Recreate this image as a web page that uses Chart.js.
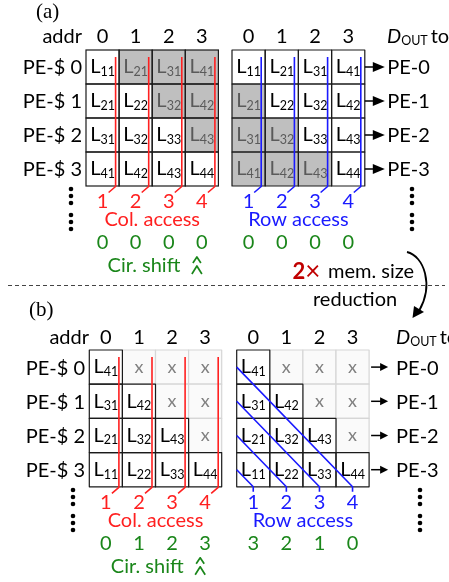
<!DOCTYPE html>
<html>
<head>
<meta charset="utf-8">
<script src="https://cdn.jsdelivr.net/npm/chart.js@4.4.1/dist/chart.umd.min.js"></script>
<style>
  html, body { margin: 0; padding: 0; background: #fff; }
  canvas { display: block; }
</style>
</head>
<body>
<canvas id="c" width="449" height="582"></canvas>
<script>
// ---------- data ----------
const addrLabels   = ['0', '1', '2', '3'];
const cacheRows    = ['PE-$ 0', 'PE-$ 1', 'PE-$ 2', 'PE-$ 3'];
const outTargets   = ['PE-0', 'PE-1', 'PE-2', 'PE-3'];
const accessOrder  = ['1', '2', '3', '4'];
// element subscripts held by each cache row, per address ('x' = freed slot)
const storeFull    = [['11','21','31','41'], ['21','22','32','42'], ['31','32','33','43'], ['41','42','43','44']];
const storeReduced = [['41','x','x','x'], ['31','42','x','x'], ['21','32','43','x'], ['11','22','33','44']];
// 1 = duplicated entry (shaded)
const dupColumn    = [[0,1,1,1], [0,0,1,1], [0,0,0,1], [0,0,0,0]];
const dupRow       = [[0,0,0,0], [1,0,0,0], [1,1,0,0], [1,1,1,0]];
const shiftColFull    = [0, 0, 0, 0];
const shiftRowFull    = [0, 0, 0, 0];
const shiftColReduced = [0, 1, 2, 3];
const shiftRowReduced = [3, 2, 1, 0];
const sizeReduction   = 2;

// ---------- styling / layout ----------
const FONT = 'Lato, "Open Sans", sans-serif';
const SERIF = '"Liberation Serif", "DejaVu Serif", serif';
const RED = '#ff2020', BLUE = '#1a1aff', GREEN = '#1a861a', DARKRED = '#c00000';

const panels = {
  a: { title: '(a)', titleX: 36, titleY: 12, headerY: 37, top: 50, rowH: 34,
       labelRight: 82, addrRight: 82, doutX: 387, arrowStyle: 'block',
       dotsL: 71, dotsR: 412, dotsTop: 189 },
  b: { title: '(b)', titleX: 29, titleY: 310, headerY: 338, top: 350, rowH: 34.2,
       labelRight: 85, addrRight: 89, doutX: 396, arrowStyle: 'thin',
       dotsL: 73, dotsR: 420, dotsTop: 490 }
};
const grids = [
  { panel: 'a', left: 86,    cw: 33.1, store: storeFull,    shade: dupColumn, mode: 'col',  color: RED,  caption: 'Col. access', shifts: shiftColFull,    cir: true },
  { panel: 'a', left: 232,   cw: 33.2, store: storeFull,    shade: dupRow,    mode: 'row',  color: BLUE, caption: 'Row access',  shifts: shiftRowFull,    out: true },
  { panel: 'b', left: 89.3,  cw: 33.1, store: storeReduced, shade: null,      mode: 'col',  color: RED,  caption: 'Col. access', shifts: shiftColReduced, cir: true },
  { panel: 'b', left: 236.7, cw: 33.1, store: storeReduced, shade: null,      mode: 'diag', color: BLUE, caption: 'Row access',  shifts: shiftRowReduced, out: true }
];

function drawDiagram(chart) {
  const ctx = chart.ctx;
  const X = v => chart.scales.x.getPixelForValue(v);
  const Y = v => chart.scales.y.getPixelForValue(v);

  function text(str, x, y, font, color, align) {
    ctx.font = font; ctx.fillStyle = color; ctx.textAlign = align || 'center';
    ctx.textBaseline = 'middle'; ctx.fillText(str, X(x), Y(y));
  }
  function elem(sub, cx, rowTop, color) {
    ctx.font = '20px ' + FONT; const wL = ctx.measureText('L').width;
    ctx.font = '12.5px ' + FONT; const wS = ctx.measureText(sub).width;
    const x0 = X(cx) - (wL + wS) / 2;
    const base = Y(rowTop + 23.3);
    ctx.fillStyle = color; ctx.textAlign = 'left'; ctx.textBaseline = 'alphabetic';
    ctx.font = '20px ' + FONT; ctx.fillText('L', x0, base);
    ctx.font = '12.5px ' + FONT; ctx.fillText(sub, x0 + wL, base + 2.7);
  }
  function dots(x, y0) {
    ctx.fillStyle = '#000';
    [0, 7, 14, 26, 33, 40].forEach(d => {
      ctx.beginPath(); ctx.arc(X(x), Y(y0 + d), 2.3, 0, Math.PI * 2); ctx.fill();
    });
  }
  function chevrons(x, y) {
    ctx.strokeStyle = GREEN; ctx.lineWidth = 1.7;
    ctx.beginPath();
    ctx.moveTo(X(x - 4), Y(y + 6)); ctx.lineTo(X(x), Y(y)); ctx.lineTo(X(x + 4), Y(y + 6));
    ctx.moveTo(X(x - 5), Y(y + 17)); ctx.lineTo(X(x), Y(y + 9)); ctx.lineTo(X(x + 5), Y(y + 17));
    ctx.stroke();
  }

  ctx.save();
  ctx.fillStyle = '#fff'; ctx.fillRect(0, 0, chart.width, chart.height);

  // panel captions, address header, cache row names
  Object.values(panels).forEach(p => {
    text(p.title, p.titleX, p.titleY, '21px ' + SERIF, '#000', 'left');
    text('addr', p.addrRight, p.headerY, '20px ' + FONT, '#000', 'right');
    cacheRows.forEach((r, i) => text(r, p.labelRight, p.top + (i + 0.5) * p.rowH + 1, '20px ' + FONT, '#000', 'right'));
    dots(p.dotsL, p.dotsTop);
    dots(p.dotsR, p.dotsTop);
    // D_OUT to
    ctx.textBaseline = 'middle'; ctx.textAlign = 'left'; ctx.fillStyle = '#000';
    let x = X(p.doutX); const y = Y(p.headerY);
    ctx.font = 'italic 20px ' + FONT; ctx.fillText('D', x, y); x += ctx.measureText('D').width;
    ctx.font = '12.5px ' + FONT; ctx.fillText('OUT', x, y + 4); x += ctx.measureText('OUT').width + 3;
    ctx.font = '20px ' + FONT; ctx.fillText('to', x, y);
  });

  grids.forEach(g => {
    const p = panels[g.panel];
    const cx = c => g.left + (c + 0.5) * g.cw;
    const bottom = p.top + 4 * p.rowH;

    addrLabels.forEach((a, c) => text(a, cx(c), p.headerY, '20px ' + FONT, '#000'));

    // cells
    const cells = [];
    g.store.forEach((row, r) => row.forEach((sub, c) => cells.push({ r, c, sub })));
    const rect = (r, c) => [X(g.left + c * g.cw), Y(p.top + r * p.rowH), X(g.left + (c + 1) * g.cw) - X(g.left + c * g.cw), Y(p.top + (r + 1) * p.rowH) - Y(p.top + r * p.rowH)];
    cells.filter(k => k.sub === 'x').forEach(k => {
      const [x, y, w, h] = rect(k.r, k.c);
      ctx.fillStyle = '#fafafa'; ctx.fillRect(x, y, w, h);
      ctx.strokeStyle = '#d6d6d6'; ctx.lineWidth = 1.2; ctx.strokeRect(x, y, w, h);
      text('x', cx(k.c), p.top + (k.r + 0.5) * p.rowH, '18px ' + FONT, '#808080');
    });
    cells.filter(k => k.sub !== 'x').forEach(k => {
      const [x, y, w, h] = rect(k.r, k.c);
      const shaded = g.shade && g.shade[k.r][k.c];
      ctx.fillStyle = shaded ? '#bfbfbf' : '#fff'; ctx.fillRect(x, y, w, h);
    });
    cells.filter(k => k.sub !== 'x').forEach(k => {
      const [x, y, w, h] = rect(k.r, k.c);
      ctx.strokeStyle = '#1a1a1a'; ctx.lineWidth = 1.2; ctx.strokeRect(x, y, w, h);
      const shaded = g.shade && g.shade[k.r][k.c];
      elem(k.sub, cx(k.c), p.top + k.r * p.rowH, shaded ? '#5a5a5a' : '#000');
    });

    // access paths
    ctx.strokeStyle = g.color; ctx.lineWidth = 1.6; ctx.lineJoin = 'round';
    accessOrder.forEach((lab, c) => {
      ctx.beginPath();
      if (g.mode === 'diag') {
        ctx.moveTo(X(g.left), Y(p.top + (3 - c + 0.5) * p.rowH));
        ctx.lineTo(X(cx(c)), Y(bottom));
        ctx.lineTo(X(cx(c)), Y(bottom + 5));
      } else {
        const lx = g.left + (c + 1) * g.cw - (g.mode === 'col' ? 3.5 : 4);
        ctx.moveTo(X(lx), Y(p.top + 7));
        ctx.lineTo(X(lx), Y(bottom + 0.5));
        ctx.lineTo(X(lx - 7), Y(bottom + 6.5));
      }
      ctx.stroke();
      text(lab, cx(c), bottom + 16, '20px ' + FONT, g.color);
    });
    text(g.caption, g.left + 2 * g.cw, bottom + 34, '20px ' + FONT, g.color);
    g.shifts.forEach((s, c) => text(String(s), cx(c), bottom + 57, '20px ' + FONT, GREEN));
    if (g.cir) {
      text('Cir. shift', g.left + 1.75 * g.cw, bottom + 80, '20px ' + FONT, GREEN);
      chevrons(g.left + 3.35 * g.cw, bottom + 71);
    }

    // outputs
    if (g.out) {
      const right = g.left + 4 * g.cw;
      outTargets.forEach((t, r) => {
        const y = p.top + (r + 0.5) * p.rowH;
        ctx.strokeStyle = '#000'; ctx.fillStyle = '#000'; ctx.lineWidth = 1.5;
        ctx.beginPath();
        if (p.arrowStyle === 'block') {
          ctx.moveTo(X(right), Y(y)); ctx.lineTo(X(right + 9), Y(y)); ctx.stroke();
          ctx.beginPath(); ctx.moveTo(X(right + 8), Y(y - 5)); ctx.lineTo(X(right + 20), Y(y)); ctx.lineTo(X(right + 8), Y(y + 5)); ctx.closePath(); ctx.fill();
          text(t, right + 22.5, y + 1, '20px ' + FONT, '#000', 'left');
        } else {
          ctx.moveTo(X(right + 2), Y(y)); ctx.lineTo(X(right + 13), Y(y)); ctx.stroke();
          ctx.beginPath(); ctx.moveTo(X(right + 11), Y(y - 4)); ctx.lineTo(X(right + 19), Y(y)); ctx.lineTo(X(right + 11), Y(y + 4)); ctx.closePath(); ctx.fill();
          text(t, right + 27, y + 1, '20px ' + FONT, '#000', 'left');
        }
      });
    }
  });

  // divider between the two layouts
  ctx.strokeStyle = '#444'; ctx.lineWidth = 1.2; ctx.setLineDash([4, 3]);
  ctx.beginPath(); ctx.moveTo(X(8), Y(285.5)); ctx.lineTo(X(445), Y(285.5)); ctx.stroke();
  ctx.setLineDash([]);

  // "2x mem. size reduction" note
  ctx.textBaseline = 'middle'; ctx.textAlign = 'left';
  let nx = X(292.5); const ny = Y(272);
  ctx.fillStyle = DARKRED; ctx.font = 'bold 22px ' + FONT; ctx.fillText(String(sizeReduction), nx, ny);
  nx += ctx.measureText(String(sizeReduction)).width;
  ctx.font = '26px ' + FONT; ctx.fillText('\u00d7', nx, ny);
  text('mem. size', 328, 272, '20px ' + FONT, '#000', 'left');
  text('reduction', 313, 300, '20px ' + FONT, '#000', 'left');

  // curved arrow
  ctx.strokeStyle = '#000'; ctx.lineWidth = 1.8;
  ctx.beginPath();
  ctx.moveTo(X(407), Y(252));
  ctx.bezierCurveTo(X(424), Y(256), X(434), Y(285), X(419), Y(311));
  ctx.stroke();
  ctx.fillStyle = '#000';
  ctx.beginPath();
  ctx.moveTo(X(412.5), Y(318));
  ctx.lineTo(X(414), Y(306));
  ctx.lineTo(X(424), Y(312));
  ctx.closePath(); ctx.fill();

  ctx.restore();
}

new Chart(document.getElementById('c'), {
  type: 'scatter',
  data: { datasets: [] },
  options: {
    responsive: false,
    animation: false,
    devicePixelRatio: 1,
    layout: { padding: 0 },
    plugins: { legend: { display: false }, tooltip: { enabled: false } },
    scales: {
      x: { type: 'linear', min: 0, max: 449, display: false },
      y: { type: 'linear', min: 0, max: 582, reverse: true, display: false }
    }
  },
  plugins: [{ id: 'memoryLayout', afterDraw: drawDiagram }]
});
</script>
</body>
</html>
